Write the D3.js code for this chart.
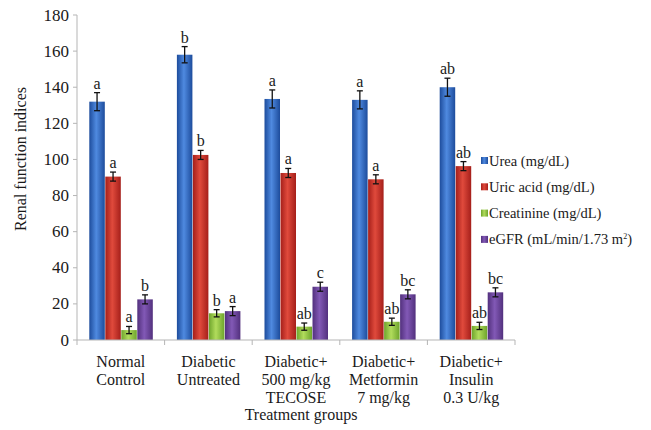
<!DOCTYPE html>
<html>
<head>
<meta charset="utf-8">
<script src="https://cdn.jsdelivr.net/npm/d3@7"></script>
<style>
  body { margin: 0; background: #fff; }
  svg text { font-family: 'Liberation Serif', 'Times New Roman', Times, 'DejaVu Serif', serif; fill: #1a1a1a; }
</style>
</head>
<body>
<svg id="chart" width="651" height="430"></svg>
<script>
const groups = [
  ["Normal", "Control"],
  ["Diabetic", "Untreated"],
  ["Diabetic+", "500 mg/kg", "TECOSE"],
  ["Diabetic+", "Metformin", "7 mg/kg"],
  ["Diabetic+", "Insulin", "0.3 U/kg"]
];
const series = ["Urea (mg/dL)", "Uric acid (mg/dL)", "Creatinine (mg/dL)", "eGFR"];
const urea = [132, 158, 133.5, 133, 140];
const uricAcid = [90.5, 102.5, 92.5, 89, 96.3];
const creatinine = [5.5, 14.8, 7.4, 10.1, 7.8];
const egfr = [22.5, 16, 29.5, 25.3, 26.4];
const ureaErr = [5, 4.5, 5, 5, 5];
const uricErr = [2.5, 2.5, 2.5, 2.5, 2.5];
const creatErr = [2, 2, 2, 2, 2];
const egfrErr = [2.5, 2.5, 2.5, 2.5, 2.5];
const ureaSig = ["a", "b", "a", "a", "ab"];
const uricSig = ["a", "b", "a", "a", "ab"];
const creatSig = ["a", "b", "ab", "ab", "ab"];
const egfrSig = ["b", "a", "c", "bc", "bc"];
const yTicks = [0, 20, 40, 60, 80, 100, 120, 140, 160, 180];

const values = [urea, uricAcid, creatinine, egfr];
const errs = [ureaErr, uricErr, creatErr, egfrErr];
const sigs = [ureaSig, uricSig, creatSig, egfrSig];
const colors = [
  ["#1d4c9c", "#4f8ae0"],
  ["#a51f1a", "#e04a3c"],
  ["#6ea42c", "#b1dc5c"],
  ["#52307d", "#8259b6"]
];

const svg = d3.select("#chart")
  .attr("font-family", "'Liberation Serif', 'DejaVu Serif', serif");
const plotLeft = 77, plotRight = 515, plotTop = 15, plotBottom = 340;

const y = d3.scaleLinear().domain([0, 180]).range([plotBottom, plotTop]);
const x0 = d3.scaleBand().domain(d3.range(groups.length)).range([plotLeft, plotRight]);
const bw = x0.bandwidth();
const x1 = d3.scaleBand().domain(d3.range(series.length))
  .range([(bw - 64) / 2 + 0.5, (bw + 64) / 2 + 0.5]);

// gradients
const defs = svg.append("defs");
colors.forEach((c, i) => {
  const g = defs.append("linearGradient").attr("id", "g" + i)
    .attr("x1", "0%").attr("x2", "100%").attr("y1", "0%").attr("y2", "0%");
  g.append("stop").attr("offset", "0%").attr("stop-color", c[0]);
  g.append("stop").attr("offset", "45%").attr("stop-color", c[1]);
  g.append("stop").attr("offset", "100%").attr("stop-color", c[0]);
});

// y axis
svg.append("line").attr("x1", plotLeft).attr("x2", plotLeft).attr("y1", plotTop).attr("y2", plotBottom)
  .attr("stroke", "#b5b5b5");
svg.selectAll(".ytick").data(yTicks).enter().append("line")
  .attr("x1", plotLeft - 4).attr("x2", plotLeft).attr("y1", d => y(d)).attr("y2", d => y(d))
  .attr("stroke", "#b5b5b5");
svg.selectAll(".ylab").data(yTicks).enter().append("text")
  .attr("x", plotLeft - 8).attr("y", d => y(d) + 5.5)
  .attr("text-anchor", "end").attr("font-size", 17)
  .text(d => d);

svg.append("text")
  .attr("transform", "translate(26,159) rotate(-90)")
  .attr("text-anchor", "middle").attr("font-size", 16)
  .text("Renal function indices");

// bars
const gSel = svg.selectAll(".grp").data(groups).enter().append("g")
  .attr("transform", (d, i) => `translate(${x0(i)},0)`);

gSel.each(function (d, gi) {
  const g = d3.select(this);
  series.forEach((s, si) => {
    const v = values[si][gi], e = errs[si][gi];
    const bx = x1(si), w = x1.bandwidth() - 0.5;
    g.append("rect").attr("x", bx).attr("y", y(v))
      .attr("width", w).attr("height", y(0) - y(v))
      .attr("fill", `url(#g${si})`);
    const cx = bx + w / 2;
    g.append("line").attr("x1", cx).attr("x2", cx)
      .attr("y1", y(v + e)).attr("y2", y(v - e))
      .attr("stroke", "#111").attr("stroke-width", 1.3);
    [v + e, v - e].forEach(t => g.append("line")
      .attr("x1", cx - 3).attr("x2", cx + 3).attr("y1", y(t)).attr("y2", y(t))
      .attr("stroke", "#111").attr("stroke-width", 1.3));
    g.append("text").attr("x", cx).attr("y", y(v + e) - 4)
      .attr("text-anchor", "middle").attr("font-size", 16)
      .text(sigs[si][gi]);
  });
});

// x axis
svg.append("line").attr("x1", plotLeft).attr("x2", plotRight).attr("y1", plotBottom).attr("y2", plotBottom)
  .attr("stroke", "#b5b5b5");
svg.selectAll(".xtick").data(d3.range(groups.length + 1)).enter().append("line")
  .attr("x1", d => plotLeft + d * bw).attr("x2", d => plotLeft + d * bw)
  .attr("y1", plotBottom).attr("y2", plotBottom + 5)
  .attr("stroke", "#b5b5b5");
groups.forEach((lines, i) => {
  const t = svg.append("text").attr("text-anchor", "middle").attr("font-size", 16);
  lines.forEach((l, k) => t.append("tspan")
    .attr("x", x0(i) + bw / 2).attr("y", 367 + k * 18).text(l));
});
svg.append("text").attr("x", 301).attr("y", 420)
  .attr("text-anchor", "middle").attr("font-size", 16)
  .text("Treatment groups");

// legend
const leg = svg.append("g").attr("transform", "translate(481,161)");
series.forEach((s, i) => {
  const row = leg.append("g").attr("transform", `translate(0,${i * 26.3})`);
  row.append("rect").attr("x", 0).attr("y", -4).attr("width", 7).attr("height", 7)
    .attr("fill", `url(#g${i})`);
  const t = row.append("text").attr("x", 8).attr("y", 4.5).attr("font-size", 14.5);
  if (i === 3) {
    t.append("tspan").text("eGFR (mL/min/1.73 m");
    t.append("tspan").attr("font-size", 8).attr("dy", -5).text("2");
    t.append("tspan").attr("dy", 5).text(")");
  } else {
    t.text(s);
  }
});
</script>
</body>
</html>
